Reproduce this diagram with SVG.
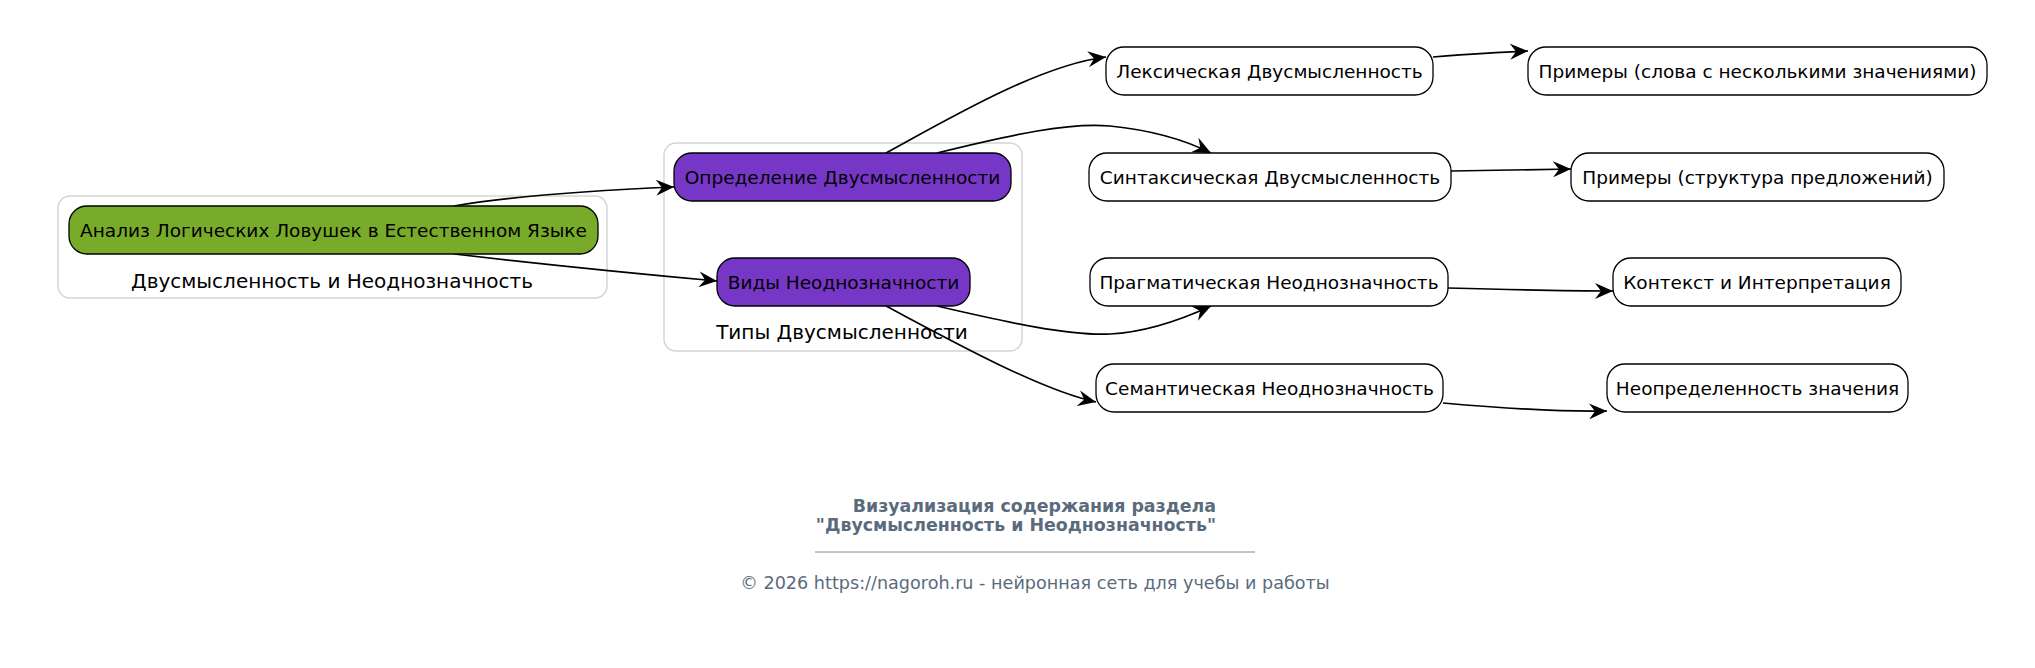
<svg xmlns="http://www.w3.org/2000/svg" width="2035" height="668" viewBox="0 0 2035 668">
<style>
  .cluster { fill: #ffffff; stroke: #d3d3d3; stroke-width: 1.4; }
  .node { stroke: #000000; stroke-width: 1.3; }
  .plain { fill: #ffffff; }
  .green { fill: #79ab2a; }
  .purple { fill: #7737c6; }
  .lbl { font-family: "DejaVu Sans", sans-serif; font-size: 18.5px; fill: #000000; text-anchor: middle; }
  .clbl { font-family: "DejaVu Sans", sans-serif; font-size: 20px; fill: #000000; text-anchor: middle; }
  .edge { fill: none; stroke: #000000; stroke-width: 1.7; marker-end: url(#arrow); }
  .foot { font-family: "DejaVu Sans", sans-serif; fill: #5a6b7d; }
</style>
<defs>
  <marker id="arrow" markerUnits="userSpaceOnUse" markerWidth="20" markerHeight="16" refX="18" refY="8" orient="auto">
    <path d="M0,0 L18,8 L0,16 L6,8 z" fill="#000000"/>
  </marker>
</defs>
<rect width="2035" height="668" fill="#ffffff"/>

<g id="cluster1">
  <rect class="cluster" x="58" y="196" width="549" height="102" rx="12"/>
  <text class="clbl" x="332" y="288">Двусмысленность и Неоднозначность</text>
</g>
<g id="cluster2">
  <rect class="cluster" x="664" y="143" width="358" height="208" rx="12"/>
  <text class="clbl" x="842" y="339">Типы Двусмысленности</text>
</g>

<g id="connectors">
  <path class="edge" d="M454,206 C520,195 600,190 674,187"/>
  <path class="edge" d="M454,254 C540,264 640,274 717,281"/>
  <path class="edge" d="M886,153 C950,118 1040,65 1106,57"/>
  <path class="edge" d="M937,153 C1010,135 1070,122 1110,126 C1150,130 1185,140 1211,153"/>
  <path class="edge" d="M937,306 C1010,323 1070,336 1110,334 C1150,332 1185,318 1211,306"/>
  <path class="edge" d="M886,306 C950,340 1040,390 1096,402"/>
  <path class="edge" d="M1433,57 C1470,54 1500,52 1528,51"/>
  <path class="edge" d="M1451,171 L1571,169"/>
  <path class="edge" d="M1448,288 C1520,290 1570,291 1613,291"/>
  <path class="edge" d="M1443,403 C1500,408 1560,412 1607,411"/>
</g>

<g id="n0"><rect class="node green" x="69" y="206" width="529" height="48" rx="18"/><text class="lbl" x="333.5" y="237">Анализ Логических Ловушек в Естественном Языке</text></g>
<g id="n1"><rect class="node purple" x="674" y="153" width="337" height="48" rx="18"/><text class="lbl" x="842.5" y="184">Определение Двусмысленности</text></g>
<g id="n2"><rect class="node purple" x="717" y="258" width="253" height="48" rx="18"/><text class="lbl" x="843.5" y="289">Виды Неоднозначности</text></g>
<g id="n3"><rect class="node plain" x="1106" y="47" width="327" height="48" rx="18"/><text class="lbl" x="1269.5" y="78">Лексическая Двусмысленность</text></g>
<g id="n4"><rect class="node plain" x="1089" y="153" width="362" height="48" rx="18"/><text class="lbl" x="1270" y="184">Синтаксическая Двусмысленность</text></g>
<g id="n5"><rect class="node plain" x="1090" y="258" width="358" height="48" rx="18"/><text class="lbl" x="1269" y="289">Прагматическая Неоднозначность</text></g>
<g id="n6"><rect class="node plain" x="1096" y="364" width="347" height="48" rx="18"/><text class="lbl" x="1269.5" y="395">Семантическая Неоднозначность</text></g>
<g id="n7"><rect class="node plain" x="1528" y="47" width="459" height="48" rx="18"/><text class="lbl" x="1757.5" y="78">Примеры (слова с несколькими значениями)</text></g>
<g id="n8"><rect class="node plain" x="1571" y="153" width="373" height="48" rx="18"/><text class="lbl" x="1757.5" y="184">Примеры (структура предложений)</text></g>
<g id="n9"><rect class="node plain" x="1613" y="258" width="288" height="48" rx="18"/><text class="lbl" x="1757" y="289">Контекст и Интерпретация</text></g>
<g id="n10"><rect class="node plain" x="1607" y="364" width="301" height="48" rx="18"/><text class="lbl" x="1757.5" y="395">Неопределенность значения</text></g>

<g id="footer">
  <text class="foot" x="1216" y="512" font-size="17.4" font-weight="bold" text-anchor="end">Визуализация содержания раздела</text>
  <text class="foot" x="1216" y="531" font-size="17.4" font-weight="bold" text-anchor="end">"Двусмысленность и Неоднозначность"</text>
  <line x1="815" y1="552" x2="1255" y2="552" stroke="#7a8896" stroke-width="1"/>
  <text class="foot" x="1035" y="589" font-size="17.6" text-anchor="middle">© 2026 https://nagoroh.ru - нейронная сеть для учебы и работы</text>
</g>
</svg>
